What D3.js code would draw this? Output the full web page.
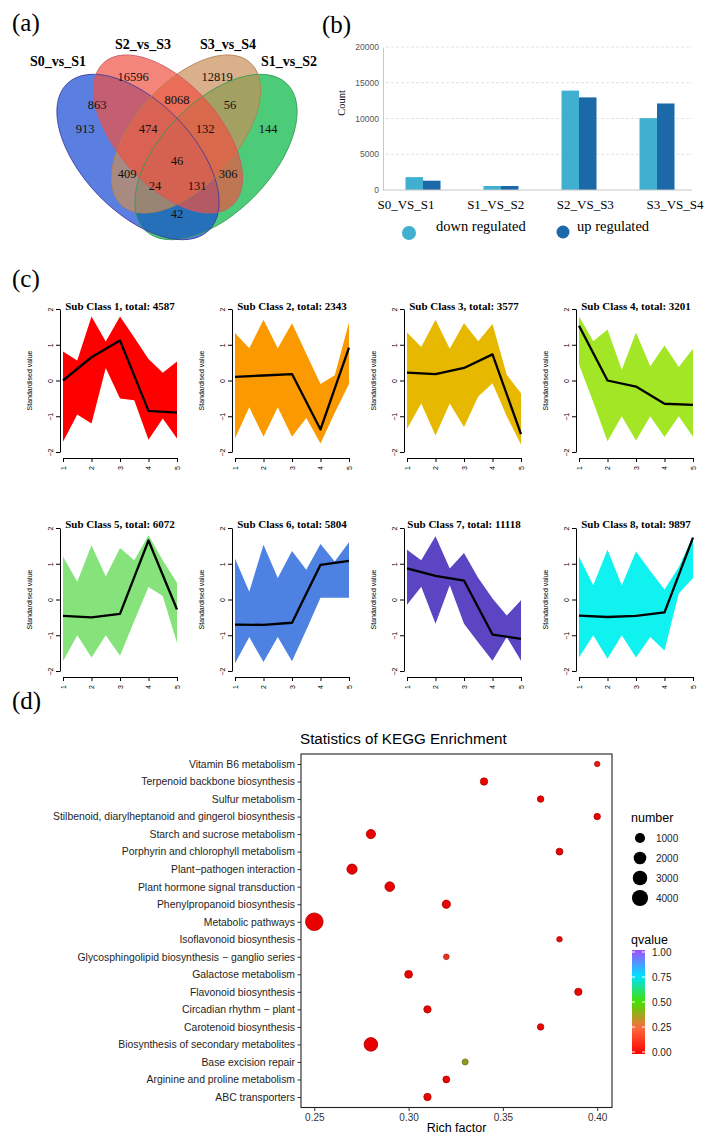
<!DOCTYPE html>
<html><head><meta charset="utf-8">
<script src="https://cdn.jsdelivr.net/npm/d3@7"></script>
<style>body{margin:0;background:#fff}svg{display:block}</style>
</head><body>
<svg id="chart" width="704" height="1136"></svg>
<script>
// ================= DATA =================
// (a) Venn
const vennSets = ["S0_vs_S1", "S2_vs_S3", "S3_vs_S4", "S1_vs_S2"];
const vennCounts = [913, 16596, 12819, 144, 863, 8068, 56, 474, 132, 46, 409, 306, 24, 131, 42];
// (b) bar chart
const barGroups = ["S0_VS_S1", "S1_VS_S2", "S2_VS_S3", "S3_VS_S4"];
const barSeries = ["down regulated", "up regulated"];
const downValues = [1800, 560, 13900, 10050];
const upValues = [1300, 560, 12950, 12100];
const barTicks = [0, 5000, 10000, 15000, 20000];
// (c) clusters
const clusterNames = ["Sub Class 1", "Sub Class 2", "Sub Class 3", "Sub Class 4", "Sub Class 5", "Sub Class 6", "Sub Class 7", "Sub Class 8"];
const clusterTotals = [4587, 2343, 3577, 3201, 6072, 5804, 11118, 9897];
const clusterTimes = [1, 2, 3, 4, 5];
const envelopeX = [1, 1.5, 2, 2.5, 3, 3.5, 4, 4.5, 5];
const clusterUpper = [
  [0.81, 0.56, 1.79, 1.09, 1.79, 1.2, 0.6, 0.22, 0.53],
  [1.33, 0.9, 1.7, 0.9, 1.6, 0.75, -0.1, 0.15, 1.62],
  [1.34, 0.94, 1.7, 0.89, 1.6, 1.1, 1.58, 0.16, -0.36],
  [1.8, 1.1, 1.43, 0.3, 1.34, 0.4, 0.98, 0.38, 0.89],
  [1.2, 0.5, 1.52, 0.64, 1.44, 1.1, 1.8, 1.1, 0.47],
  [1.15, 0.22, 1.53, 0.6, 1.36, 0.83, 1.55, 1.06, 1.6],
  [1.39, 1.1, 1.77, 0.87, 1.3, 0.6, 0.03, -0.45, -0.02],
  [1.2, 0.4, 1.39, 0.4, 1.34, 0.8, 0.28, 0.9, 1.77]
];
const clusterLower = [
  [-1.71, -0.95, -1.2, 0.35, -0.5, -0.55, -1.66, -1.06, -1.62],
  [-1.62, -0.75, -1.57, -0.75, -1.57, -1.05, -1.76, -0.9, -0.1],
  [-1.35, -0.64, -1.54, -0.64, -1.3, -0.45, -0.08, -1.0, -1.79],
  [0.45, -0.6, -1.7, -1.0, -1.68, -1.0, -1.58, -1.0, -1.57],
  [-1.73, -1.0, -1.62, -1.0, -1.57, -0.6, 0.35, 0.1, -1.22],
  [-1.78, -1.05, -1.75, -1.05, -1.73, -0.85, 0.05, 0.05, 0.05],
  [-0.15, 0.36, -0.68, 0.4, -0.68, -1.2, -1.71, -1.05, -1.71],
  [-1.62, -1.0, -1.66, -1.0, -1.62, -1.05, -1.43, 0.17, 0.6]
];
const clusterMean = [
  [0, 0.65, 1.12, -0.85, -0.9],
  [0.1, 0.14, 0.18, -1.37, 0.92],
  [0.22, 0.18, 0.35, 0.73, -1.5],
  [1.53, 0.0, -0.17, -0.65, -0.68],
  [-0.46, -0.5, -0.4, 1.65, -0.28],
  [-0.7, -0.71, -0.65, 0.97, 1.08],
  [0.87, 0.66, 0.53, -0.98, -1.1],
  [-0.45, -0.49, -0.46, -0.36, 1.73]
];
const clusterYTicks = [-2, -1, 0, 1, 2];
// (d) KEGG enrichment
const keggPathways = ["Vitamin B6 metabolism", "Terpenoid backbone biosynthesis", "Sulfur metabolism",
  "Stilbenoid, diarylheptanoid and gingerol biosynthesis", "Starch and sucrose metabolism",
  "Porphyrin and chlorophyll metabolism", "Plant\u2212pathogen interaction", "Plant hormone signal transduction",
  "Phenylpropanoid biosynthesis", "Metabolic pathways", "Isoflavonoid biosynthesis",
  "Glycosphingolipid biosynthesis \u2212 ganglio series", "Galactose metabolism", "Flavonoid biosynthesis",
  "Circadian rhythm \u2212 plant", "Carotenoid biosynthesis", "Biosynthesis of secondary metabolites",
  "Base excision repair", "Arginine and proline metabolism", "ABC transporters"];
const keggRich = [0.40, 0.34, 0.37, 0.40, 0.28, 0.38, 0.27, 0.29, 0.32, 0.25, 0.38, 0.32, 0.30, 0.39, 0.31, 0.37, 0.28, 0.33, 0.32, 0.31];
const keggNumber = [50, 300, 160, 160, 735, 215, 1035, 860, 490, 5000, 60, 70, 380, 300, 300, 160, 2490, 110, 215, 300];
const keggQ = [0.07, 0.01, 0.01, 0.01, 0.0, 0.01, 0.0, 0.0, 0.0, 0.0, 0.03, 0.13, 0.0, 0.01, 0.01, 0.01, 0.0, 0.38, 0.01, 0.01];
const keggTicks = [0.25, 0.30, 0.35, 0.40];
const sizeLegend = [1000, 2000, 3000, 4000];
const qTicks = [0, 0.25, 0.5, 0.75, 1];

// ================= LAYOUT / STYLE =================
const svg = d3.select("#chart");
svg.append("rect").attr("width", 704).attr("height", 1136).attr("fill", "#fff");
const SERIF = "'Liberation Serif','Times New Roman',serif";
const SANS = "'Liberation Sans',Arial,sans-serif";

// panel letters
[["(a)", 12, 31], ["(b)", 322, 33], ["(c)", 12, 287], ["(d)", 12, 709]].forEach(([t, x, y]) =>
  svg.append("text").attr("x", x).attr("y", y).attr("font-family", SERIF).attr("font-size", 25).text(t));

// ---------- (a) Venn ----------
const vennShapes = [ // drawing order: green, blue, tan, red
  {cx: 216, cy: 157, rx: 102, ry: 55, rot: -46, fill: "#00b63e", line: "#2f9a55"},
  {cx: 138, cy: 157, rx: 102, ry: 55, rot: 46, fill: "#1648d3", line: "#3a3aa0"},
  {cx: 186, cy: 134, rx: 96, ry: 51, rot: -48, fill: "#c98e57", line: "#b08050"},
  {cx: 168, cy: 134, rx: 96, ry: 51, rot: 48, fill: "#ef5141", line: "#c85a6a"}
];
const gv = svg.append("g");
gv.selectAll("ellipse.f").data(vennShapes).join("ellipse")
  .attr("cx", d => d.cx).attr("cy", d => d.cy).attr("rx", d => d.rx).attr("ry", d => d.ry)
  .attr("transform", d => `rotate(${d.rot} ${d.cx} ${d.cy})`)
  .attr("fill", d => d.fill).attr("fill-opacity", 0.7);
gv.selectAll("ellipse.o").data(vennShapes).join("ellipse")
  .attr("cx", d => d.cx).attr("cy", d => d.cy).attr("rx", d => d.rx).attr("ry", d => d.ry)
  .attr("transform", d => `rotate(${d.rot} ${d.cx} ${d.cy})`)
  .attr("fill", "none").attr("stroke", d => d.line).attr("stroke-width", 0.8);
const vennLabelPos = [[58, 66], [143, 49], [228, 49], [289, 66]];
vennSets.forEach((s, i) => gv.append("text").attr("x", vennLabelPos[i][0]).attr("y", vennLabelPos[i][1])
  .attr("text-anchor", "middle").attr("font-family", SERIF).attr("font-weight", "bold").attr("font-size", 14).text(s));
const vennCountPos = [[85, 128], [133, 76], [217, 76], [268, 128], [97, 104], [177, 99], [230, 104], [148, 128],
  [205, 128], [177, 160], [127, 173], [228, 173], [155, 185], [197, 185], [177, 213]];
vennCounts.forEach((c, i) => gv.append("text").attr("x", vennCountPos[i][0]).attr("y", vennCountPos[i][1] + 4.5)
  .attr("text-anchor", "middle").attr("font-family", SERIF).attr("font-size", 12.5).attr("fill", "#111").text(c));

// ---------- (b) Bar chart ----------
const gb = svg.append("g");
const by = d3.scaleLinear().domain([0, 20000]).range([190, 47]);
const bxc = d3.scalePoint().domain(barGroups).range([423, 657]);
const bsub = d3.scaleBand().domain(barSeries).range([-17.5, 17.5]);
const bxl = d3.scalePoint().domain(barGroups).range([406, 675]);
const barColors = d3.scaleOrdinal().domain(barSeries).range(["#41afd0", "#1b69a8"]);
barTicks.filter(t => t > 0).forEach(t => gb.append("line").attr("x1", 386).attr("x2", 692)
  .attr("y1", by(t)).attr("y2", by(t)).attr("stroke", "#dcdcdc").attr("stroke-width", 0.8).attr("stroke-dasharray", "3,2"));
const barData = barGroups.flatMap((g, i) => [
  {g, s: barSeries[0], v: downValues[i]}, {g, s: barSeries[1], v: upValues[i]}]);
gb.selectAll("rect.bar").data(barData).join("rect")
  .attr("x", d => bxc(d.g) + bsub(d.s)).attr("width", bsub.bandwidth())
  .attr("y", d => by(d.v)).attr("height", d => by(0) - by(d.v)).attr("fill", d => barColors(d.s));
const yAxisB = gb.append("g").attr("transform", "translate(383,0)")
  .call(d3.axisLeft(by).tickValues(barTicks).tickSize(0).tickSizeOuter(0).tickPadding(4).tickFormat(d3.format("d")));
yAxisB.select(".domain").attr("stroke", "#c8c8c8");
yAxisB.selectAll("text").attr("font-family", SANS).attr("font-size", 8.5).attr("fill", "#555");
gb.append("line").attr("x1", 383).attr("x2", 692).attr("y1", by(0)).attr("y2", by(0)).attr("stroke", "#c8c8c8");
gb.append("text").attr("transform", "translate(345,103) rotate(-90)").attr("text-anchor", "middle")
  .attr("font-family", SERIF).attr("font-size", 10.5).text("Count");
barGroups.forEach(g => gb.append("text").attr("x", bxl(g)).attr("y", 209).attr("text-anchor", "middle")
  .attr("font-family", SERIF).attr("font-size", 13).text(g));
const legB = [[409, 233, 7, 436], [563, 232, 6.5, 577]];
barSeries.forEach((s, i) => {
  gb.append("circle").attr("cx", legB[i][0]).attr("cy", legB[i][1]).attr("r", legB[i][2]).attr("fill", barColors(s));
  gb.append("text").attr("x", legB[i][3]).attr("y", 231).attr("font-family", SERIF).attr("font-size", 14.5).text(s);
});

// ---------- (c) clusters ----------
const clusterColors = ["#ff0000", "#fa9a00", "#e6b800", "#a2e625", "#86e37b", "#4d82e3", "#5b45c2", "#10f2f0"];
clusterTotals.forEach((tot, i) => {
  const col = i % 4, row = Math.floor(i / 4);
  const x = d3.scaleLinear().domain([1, 5]).range([63 + 172 * col, 177 + 172 * col]);
  const y = d3.scaleLinear().domain([-2, 2]).range([452 + 219 * row, 309 + 219 * row]);
  const g = svg.append("g");
  const area = d3.area().x((d, j) => x(envelopeX[j])).y0((d, j) => y(clusterLower[i][j])).y1(d => y(d));
  g.append("path").datum(clusterUpper[i]).attr("d", area).attr("fill", clusterColors[i]);
  const line = d3.line().x((d, j) => x(clusterTimes[j])).y(d => y(d));
  g.append("path").datum(clusterMean[i]).attr("d", line).attr("fill", "none")
    .attr("stroke", "#000").attr("stroke-width", 2.3).attr("stroke-linejoin", "round");
  // y axis
  const ya = g.append("g").attr("transform", `translate(${x(1) - 3},0)`)
    .call(d3.axisLeft(y).tickValues(clusterYTicks).tickSize(4).tickSizeOuter(0).tickFormat(d3.format("d")));
  ya.select(".domain").attr("stroke", "#000");
  ya.selectAll(".tick text").attr("font-family", SANS).attr("font-size", 7).attr("text-anchor", "middle")
    .attr("transform", "translate(-9.5,0) rotate(-90)").attr("x", 0).attr("y", 0).attr("dy", "0.35em");
  // x axis
  const xa = g.append("g").attr("transform", `translate(0,${y(-2) + 6})`)
    .call(d3.axisBottom(x).tickValues(clusterTimes).tickSize(4).tickSizeOuter(0).tickFormat(d3.format("d")));
  xa.select(".domain").attr("stroke", "#000");
  xa.selectAll(".tick text").attr("font-family", SANS).attr("font-size", 7).attr("text-anchor", "middle")
    .attr("transform", "translate(0,10) rotate(-90)").attr("x", 0).attr("y", 0).attr("dy", "0.35em");
  g.append("text").attr("transform", `translate(${x(1) - 31},${y(0)}) rotate(-90)`).attr("text-anchor", "middle")
    .attr("font-family", SANS).attr("font-size", 7).text("Standardised value");
  g.append("text").attr("x", (x(1) + x(5)) / 2).attr("y", y(2) + 1 + (row ? -1.5 : 0)).attr("text-anchor", "middle")
    .attr("font-family", SERIF).attr("font-weight", "bold").attr("font-size", 11)
    .text(`${clusterNames[i]}, total: ${tot}`);
});

// ---------- (d) KEGG ----------
const gd = svg.append("g");
const kx = d3.scaleLinear().domain([0.25, 0.40]).range([314.3, 597.2]);
const ky = d3.scalePoint().domain(keggPathways).range([764, 1097]);
const boxL = 301, boxR = 612, boxT = 754, boxB = 1107.5;
const kr = d3.scaleSqrt().domain([50, 5000]).range([2.7, 8.8]);
const kc = d3.scaleLinear().domain([0, 0.25, 0.5, 0.75, 1])
  .range(["#ff0000", "#ff6a3d", "#44e000", "#00e1ff", "#a24dff"]);
gd.append("text").attr("x", 300).attr("y", 744).attr("font-family", SANS).attr("font-size", 15.2)
  .text("Statistics of KEGG Enrichment");
gd.append("rect").attr("x", boxL).attr("y", boxT).attr("width", boxR - boxL).attr("height", boxB - boxT)
  .attr("fill", "#fff").attr("stroke", "#222").attr("stroke-width", 1.1);
const ya2 = gd.append("g").attr("transform", `translate(${boxL},0)`)
  .call(d3.axisLeft(ky).tickSize(3.5).tickPadding(2.5));
ya2.select(".domain").remove();
ya2.selectAll("line").attr("stroke", "#333");
ya2.selectAll("text").attr("font-family", SANS).attr("font-size", 10.4).attr("fill", "#1e1e1e");
const xa2 = gd.append("g").attr("transform", `translate(0,${boxB})`)
  .call(d3.axisBottom(kx).tickValues(keggTicks).tickSize(3.5).tickPadding(3).tickFormat(d3.format(".2f")));
xa2.select(".domain").remove();
xa2.selectAll("line").attr("stroke", "#333");
xa2.selectAll("text").attr("font-family", SANS).attr("font-size", 10).attr("fill", "#333");
gd.append("text").attr("x", (boxL + boxR) / 2).attr("y", 1132).attr("text-anchor", "middle")
  .attr("font-family", SANS).attr("font-size", 12.5).text("Rich factor");
const keggData = keggPathways.map((p, i) => ({p, r: keggRich[i], n: keggNumber[i], q: keggQ[i]}));
gd.selectAll("circle.dot").data(keggData).join("circle")
  .attr("cx", d => kx(d.r)).attr("cy", d => ky(d.p)).attr("r", d => kr(d.n))
  .attr("fill", d => d3.color(kc(d.q)).darker(0.25)).attr("stroke", d => d3.color(kc(d.q)).darker(1.1)).attr("stroke-width", 0.8);
// size legend
gd.append("text").attr("x", 631).attr("y", 822).attr("font-family", SANS).attr("font-size", 12.5).text("number");
sizeLegend.forEach((n, i) => {
  const cy = 838 + 20 * i;
  gd.append("circle").attr("cx", 640).attr("cy", cy).attr("r", kr(n)).attr("fill", "#000");
  gd.append("text").attr("x", 656).attr("y", cy + 3.6).attr("font-family", SANS).attr("font-size", 10).attr("fill", "#222").text(n);
});
// color legend
gd.append("text").attr("x", 631).attr("y", 944).attr("font-family", SANS).attr("font-size", 12.5).text("qvalue");
const qy = d3.scaleLinear().domain([0, 1]).range([1052, 952]);
const grad = svg.append("defs").append("linearGradient").attr("id", "qgrad")
  .attr("x1", 0).attr("y1", 1).attr("x2", 0).attr("y2", 0);
qTicks.forEach(q => grad.append("stop").attr("offset", q).attr("stop-color", kc(q)));
gd.append("rect").attr("x", 632).attr("y", qy(1) - 2).attr("width", 13).attr("height", qy(0) - qy(1) + 4)
  .attr("fill", "url(#qgrad)");
qTicks.forEach(q => {
  gd.append("line").attr("x1", 632).attr("x2", 635).attr("y1", qy(q)).attr("y2", qy(q)).attr("stroke", "#fff");
  gd.append("line").attr("x1", 642).attr("x2", 645).attr("y1", qy(q)).attr("y2", qy(q)).attr("stroke", "#fff");
  gd.append("text").attr("x", 652).attr("y", qy(q) + 3.6).attr("font-family", SANS).attr("font-size", 10)
    .attr("fill", "#222").text(d3.format(".2f")(q));
});
</script>
</body></html>
